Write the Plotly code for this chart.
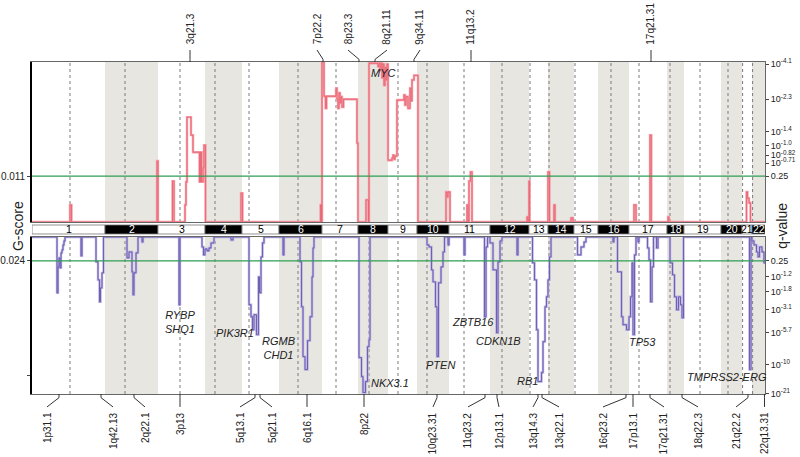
import plotly.graph_objects as go

# ---------------- data ----------------
chrom_names = [str(i) for i in range(1, 23)]
chrom_len = [73, 53, 47, 37, 37, 43, 36, 30, 29, 32, 41, 39, 19, 26, 24, 31, 38, 17, 37, 21, 10, 13]
centromere_offset = [38, 20, 22, 10, 7, 19, 14, 11, 10, 10, 15, 12, 1, 1, 1, 13, 10, 3, 16, 7, 0.6, 0.6]

# amplification G-score profile (genome position, G-score)
amp_pos = [0, 38, 39.5, 125, 126, 140.5, 142, 153, 154, 155, 159, 161, 167.5, 168.5, 169.5, 171, 172, 173.5,
           209, 210.5, 288.5, 289.5, 290, 292, 293.5, 294.5, 304, 305, 306, 307, 308, 309, 310, 311.5, 325, 326,
           334, 336.5, 337, 346, 347, 348, 349, 350, 351, 352, 353, 354, 355, 356, 360, 361, 362, 363, 365,
           372, 373, 374, 376, 378, 379, 380, 382, 386, 414, 415, 416, 418, 435, 436, 437, 438.5, 440,
           495, 496, 497, 497.6, 516, 517.5, 522, 523, 539, 541, 602, 604, 618, 619.3, 636, 637,
           714.5, 715.5, 717, 718.5, 733]
amp_g = [0, 0.0041, 0, 0.0146, 0, 0.0098, 0, 0.0041, 0.0096, 0.0251, 0.0208, 0.0167, 0.0096, 0.0167, 0.0096, 0.0130, 0.0184, 0,
         0.0069, 0, 0.0041, 0, 0.0383, 0.0301, 0.0272, 0.0301, 0.0320, 0.0294, 0.0272, 0.0309, 0.0285, 0.0300, 0.0275, 0.0294, 0.0189, 0,
         0.0053, 0, 0.0380, 0.0372, 0.0380, 0.0363, 0.0380, 0.0345, 0.0378, 0.0327, 0.0370, 0.0340, 0.0378, 0.0148, 0.0153, 0.0160, 0.0150, 0.0158, 0.0292,
         0.0304, 0.0280, 0.0300, 0.0272, 0.0320, 0.0290, 0.0340, 0.0351, 0, 0.0072, 0.0060, 0.0072, 0, 0.0041, 0, 0.0098, 0.0120, 0,
         0.0012, 0, 0.0098, 0, 0.0120, 0, 0.0041, 0, 0.0010, 0, 0.0041, 0, 0.0208, 0, 0.0012, 0,
         0.0072, 0.0057, 0.0046, 0, 0]

# deletion G-score profile (genome position, G-score)
del_pos = [0, 25, 26, 27, 28, 29, 30, 31, 32, 33, 49, 50, 64, 66, 67.5, 68.5, 70, 71.5,
           95, 97, 100, 101, 102, 104, 106, 110, 111, 147, 148,
           170, 171.5, 173, 175, 177, 179, 182, 199, 201,
           217, 219, 220.5, 222, 224.5, 226.5, 227.5, 229, 230.5, 232,
           251, 252, 268, 269.5, 271, 273, 275.5, 278, 280, 281, 282,
           327, 329.5, 331, 333.5, 335.5, 337, 338,
           395, 397, 399.5, 401, 403.5, 405, 406.5, 409, 411, 412.5, 416, 417,
           432, 433, 452.5, 454, 455.5, 458, 461, 464.5, 466, 468, 470, 485, 486,
           500.5, 502.5, 504.5, 506, 509.5, 511, 513, 514.5, 516, 517.5, 519,
           545.5, 549, 552, 554,
           581, 582, 585.5, 589.5, 591, 594.5, 597, 598.5, 600, 601, 602.5, 604, 606, 607,
           615.5, 617, 618.5, 620, 621.5, 624.5, 626,
           638, 640.5, 642.5, 644.5, 646.5, 648.5, 650, 651.5,
           717.5, 719, 720, 722, 724.5, 726, 727.5, 730, 732, 733]
del_g = [0, 0.056, 0.030, 0.021, 0.031, 0.016, 0.013, 0.008, 0.004, 0, 0.019, 0, 0.025, 0.043, 0.065, 0.051, 0.036, 0,
         0.021, 0.015, 0.035, 0.058, 0.036, 0.016, 0, 0.005, 0, 0.068, 0,
         0.010, 0.018, 0.012, 0.014, 0.011, 0.006, 0, 0.003, 0,
         0.068, 0.080, 0.093, 0.078, 0.098, 0.040, 0.056, 0.020, 0.006, 0,
         0.018, 0, 0.025, 0.070, 0.120, 0.133, 0.104, 0.080, 0.040, 0.011, 0,
         0.121, 0.140, 0.156, 0.145, 0.110, 0.103, 0,
         0.008, 0.010, 0.033, 0.045, 0.070, 0.120, 0.046, 0.030, 0.015, 0, 0.008, 0,
         0.018, 0, 0.080, 0.010, 0, 0.006, 0.033, 0.096, 0.025, 0.004, 0, 0.018, 0,
         0.026, 0.043, 0.093, 0.145, 0.136, 0.105, 0.070, 0.060, 0.043, 0.020, 0,
         0.018, 0.010, 0.005, 0,
         0.005, 0, 0.035, 0.080, 0.088, 0.093, 0.080, 0.060, 0.026, 0.098, 0.018, 0, 0.005, 0,
         0.011, 0.023, 0.065, 0.030, 0, 0.011, 0,
         0.026, 0.038, 0.060, 0.073, 0.060, 0.068, 0.081, 0,
         0.133, 0, 0.004, 0.008, 0.015, 0.020, 0.010, 0.015, 0.026, 0.026]

amp_threshold = 0.011
del_threshold = 0.024
amp_q_tick_g = [0.0378, 0.0294, 0.0217, 0.0182, 0.0160, 0.0141, 0.011]
amp_q_tick_text = ['10<sup>-4.1</sup>', '10<sup>-2.3</sup>', '10<sup>-1.4</sup>', '10<sup>-1.0</sup>',
                   '10<sup>-0.82</sup>', '10<sup>-0.71</sup>', '0.25']
del_q_tick_g = [0.024, 0.040, 0.055, 0.073, 0.096, 0.128, 0.157]
del_q_tick_text = ['0.25', '10<sup>-1.2</sup>', '10<sup>-1.8</sup>', '10<sup>-3.1</sup>', '10<sup>-5.7</sup>',
                   '10<sup>-10</sup>', '10<sup>-21</sup>']

top_band_labels = ['3q21.3', '7p22.2', '8p23.3', '8q21.11', '9q34.11', '11q13.2', '17q21.31']
top_band_label_pos = [158, 285, 316, 355, 388, 439, 619]
top_band_peak_pos = [158, 291, 327, 343, 382, 439, 619]

bot_band_labels = ['1p31.1', '1q42.13', '2q22.1', '3p13', '5q13.1', '5q21.1', '6q16.1', '8p22', '10q23.31',
                   '11q23.2', '12p13.1', '13q14.3', '13q22.1', '16q23.2', '17p13.1', '17q21.31', '18q22.3',
                   '21q22.2', '22q13.31']
bot_band_label_pos = [15, 81, 113, 148, 208, 240, 275, 332, 401, 436, 467, 501, 527, 571, 601, 632, 666, 704, 732.5]
bot_band_peak_pos = [27, 69, 102, 148, 223, 228, 275, 332, 405, 453, 465, 506, 510, 594, 601, 618, 650, 716, 732.5]

amp_genes = ['MYC']
amp_gene_pos = [351]
amp_gene_g = [0.0356]
del_genes = ['RYBP<br>SHQ1', 'PIK3R1', 'RGMB<br>CHD1', 'PTEN', 'ZBTB16', 'CDKN1B', 'RB1', 'TP53', 'TMPRSS2-ERG']
del_gene_pos = [148, 203, 246, 408, 441, 466, 495, 610, 695]
del_gene_g = [0.0855, 0.096, 0.1115, 0.128, 0.085, 0.104, 0.144, 0.105, 0.140]
nkx_gene = 'NKX3.1'
nkx_pos = 337
nkx_g = 0.146

# ---------------- figure ----------------
FONT = 'Liberation Sans, Arial, Helvetica, sans-serif'
starts = []
acc = 0
for L in chrom_len:
    starts.append(acc)
    acc += L
genome_len = acc

AMP_MAX = 0.0383
DEL_MAX = 0.1575
TOP_DOM = [0.518, 1.0]
BOT_DOM = [0.0, 0.473]
BAND = [0.482, 0.509]

fig = go.Figure()

# amplification traces
fig.add_trace(go.Scatter(x=amp_pos, y=amp_g, mode='lines', line=dict(color='#f4a0aa', width=2.4, shape='hv'),
                         xaxis='x', yaxis='y', hoverinfo='skip', showlegend=False))
fig.add_trace(go.Scatter(x=amp_pos, y=amp_g, mode='lines', line=dict(color='#e23441', width=0.8, shape='hv'),
                         opacity=0.6, xaxis='x', yaxis='y', showlegend=False))
# deletion traces
fig.add_trace(go.Scatter(x=del_pos, y=del_g, mode='lines', line=dict(color='#b9aedf', width=2.4, shape='hv'),
                         xaxis='x2', yaxis='y2', hoverinfo='skip', showlegend=False))
fig.add_trace(go.Scatter(x=del_pos, y=del_g, mode='lines', line=dict(color='#3a2e94', width=0.8, shape='hv'),
                         opacity=0.75, xaxis='x2', yaxis='y2', showlegend=False))
# invisible traces to create the right-hand q-value axes
fig.add_trace(go.Scatter(x=[0], y=[0], mode='markers', marker=dict(opacity=0), xaxis='x', yaxis='y3',
                         hoverinfo='skip', showlegend=False))
fig.add_trace(go.Scatter(x=[0], y=[0], mode='markers', marker=dict(opacity=0), xaxis='x2', yaxis='y4',
                         hoverinfo='skip', showlegend=False))

shapes = []
annotations = []
# shading for even chromosomes + centromere dotted lines
for i, (s, L) in enumerate(zip(starts, chrom_len)):
    if i % 2 == 1:
        for yr in ('y domain', 'y2 domain'):
            shapes.append(dict(type='rect', xref='x', yref=yr, x0=s, x1=s + L, y0=0, y1=1,
                               fillcolor='#e8e6e0', line=dict(width=0), layer='below'))
    c = s + centromere_offset[i]
    for yr in ('y domain', 'y2 domain'):
        shapes.append(dict(type='line', xref='x', yref=yr, x0=c, x1=c, y0=0, y1=1,
                           line=dict(color='#7a7a7a', width=1, dash='dot'), layer='below'))
    # chromosome band bar
    even = i % 2 == 1
    shapes.append(dict(type='rect', xref='x', yref='paper', x0=s, x1=s + L, y0=BAND[0], y1=BAND[1],
                       fillcolor='black' if even else 'white', line=dict(color='#777', width=0.8)))
    annotations.append(dict(x=s + L / 2, y=(BAND[0] + BAND[1]) / 2, xref='x', yref='paper', text=chrom_names[i],
                            showarrow=False, font=dict(family=FONT, size=10.5, color='white' if even else 'black'),
                            xanchor='center', yanchor='middle'))

# threshold lines
shapes.append(dict(type='line', xref='x domain', yref='y', x0=0, x1=1, y0=amp_threshold, y1=amp_threshold,
                   line=dict(color='#2f9e55', width=1.3)))
shapes.append(dict(type='line', xref='x domain', yref='y2', x0=0, x1=1, y0=del_threshold, y1=del_threshold,
                   line=dict(color='#2f9e55', width=1.3)))

# top cytoband labels and connectors
for lab, lx, px in zip(top_band_labels, top_band_label_pos, top_band_peak_pos):
    shapes.append(dict(type='path', xref='x', yref='paper',
                       path=f'M {lx},1.036 L {px},1.008 L {px},1.0', line=dict(color='#333', width=1)))
    annotations.append(dict(x=lx, y=1.046, xref='x', yref='paper', text=lab, textangle=-90, showarrow=False,
                            xanchor='center', yanchor='bottom', font=dict(family=FONT, size=10, color='#222')))
# bottom cytoband labels and connectors
for lab, lx, px in zip(bot_band_labels, bot_band_label_pos, bot_band_peak_pos):
    shapes.append(dict(type='path', xref='x', yref='paper',
                       path=f'M {px},0 L {px},-0.011 L {lx},-0.039', line=dict(color='#333', width=1)))
    annotations.append(dict(x=lx, y=-0.05, xref='x', yref='paper', text=lab, textangle=-90, showarrow=False,
                            xanchor='center', yanchor='top', font=dict(family=FONT, size=10, color='#222')))

# gene labels
for g, gx, gy in zip(amp_genes, amp_gene_pos, amp_gene_g):
    annotations.append(dict(x=gx, y=gy, xref='x', yref='y', text=f'<i>{g}</i>', showarrow=False,
                            font=dict(family=FONT, size=11, color='#222'), xanchor='center', yanchor='middle'))
for g, gx, gy in zip(del_genes, del_gene_pos, del_gene_g):
    annotations.append(dict(x=gx, y=gy, xref='x2', yref='y2', text='<i>' + g.replace('<br>', '</i><br><i>') + '</i>',
                            showarrow=False, font=dict(family=FONT, size=11, color='#222'),
                            xanchor='center', yanchor='middle'))
annotations.append(dict(x=nkx_pos, y=nkx_g, xref='x2', yref='y2', text=f'<i>{nkx_gene}</i>', showarrow=False,
                        font=dict(family=FONT, size=11, color='#222'), xanchor='left', yanchor='middle'))

# axis titles
annotations.append(dict(x=-0.019, y=0.506, xref='paper', yref='paper', text='G-score', textangle=-90,
                        showarrow=False, font=dict(family=FONT, size=14, color='#222'),
                        xanchor='center', yanchor='middle'))
annotations.append(dict(x=1.023, y=0.506, xref='paper', yref='paper', text='q-value', textangle=-90,
                        showarrow=False, font=dict(family=FONT, size=14, color='#222'),
                        xanchor='center', yanchor='middle'))

xcommon = dict(range=[0, genome_len], showticklabels=False, ticks='', showgrid=False, zeroline=False,
               showline=True, linecolor='#666', linewidth=1, mirror=True)
tickfont = dict(family=FONT, size=10, color='#222')
rtickfont = dict(family=FONT, size=9, color='#222')

fig.update_layout(
    width=800, height=457,
    margin=dict(l=32, r=35, t=62, b=63, autoexpand=False),
    paper_bgcolor='white', plot_bgcolor='white',
    showlegend=False,
    xaxis=dict(domain=[0, 1], anchor='y', **xcommon),
    xaxis2=dict(domain=[0, 1], anchor='y2', matches='x', **xcommon),
    yaxis=dict(domain=TOP_DOM, anchor='x', range=[0, AMP_MAX], tickvals=[amp_threshold], ticktext=['0.011'],
               ticks='outside', ticklen=3, tickfont=tickfont, showgrid=False, zeroline=False,
               showline=True, linecolor='black', linewidth=1.6),
    yaxis3=dict(overlaying='y', side='right', anchor='x', range=[0, AMP_MAX], tickvals=amp_q_tick_g,
                ticktext=amp_q_tick_text, ticks='outside', ticklen=3, tickfont=rtickfont,
                showgrid=False, zeroline=False, showline=True, linecolor='#666', linewidth=1),
    yaxis2=dict(domain=BOT_DOM, anchor='x2', range=[DEL_MAX, 0], tickvals=[del_threshold, 0.139],
                ticktext=['0.024', ''], ticks='outside', ticklen=3, tickfont=tickfont, showgrid=False,
                zeroline=False, showline=True, linecolor='black', linewidth=1.6),
    yaxis4=dict(overlaying='y2', side='right', anchor='x2', range=[DEL_MAX, 0], tickvals=del_q_tick_g,
                ticktext=del_q_tick_text, ticks='outside', ticklen=3, tickfont=rtickfont,
                showgrid=False, zeroline=False, showline=True, linecolor='#666', linewidth=1),
    shapes=shapes,
    annotations=annotations,
)

# remove the page's default 8 px body margin so the figure sits at the window's top-left corner
fig.write_html('out.html', config={'displayModeBar': False},
               post_script="document.body.style.margin='0';")
